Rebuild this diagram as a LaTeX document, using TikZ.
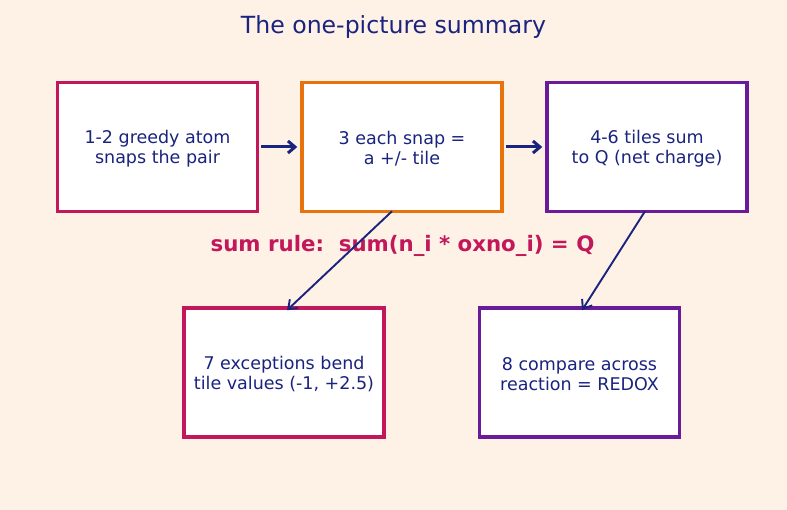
\documentclass[tikz,border=0pt]{standalone}
\usepackage{fontspec}
\setmainfont{DejaVu Sans}
\usetikzlibrary{arrows.meta}
\definecolor{bg}{HTML}{FEF1E6}
\definecolor{navy}{HTML}{1A237E}
\definecolor{crim}{HTML}{C2185B}
\definecolor{orng}{HTML}{E8730C}
\definecolor{purp}{HTML}{6A1B9A}
\tikzset{
  box/.style={draw, line width=3.5pt, fill=white, minimum width=200pt, minimum height=129pt, inner sep=0pt, align=center, text=navy, font=\fontsize{17.5}{20.5}\selectfont},
  boxtext/.style={inner sep=0pt, align=center, text=navy, font=\fontsize{17.5}{20.5}\selectfont},
  harrow/.style={draw=navy, line width=3pt, -{Straight Barb[length=7pt,width=12pt]}},
  darrow/.style={draw=navy, line width=1.9pt, -{Straight Barb[length=8pt,width=12pt]}}
}
\begin{document}
\begin{tikzpicture}[x=1pt,y=-1pt]
\fill[bg] (0,0) rectangle (787,510);
\useasboundingbox (0,0) rectangle (787,510);
\node[text=navy, font=\fontsize{23.6}{28}\selectfont] (title) at (393.5,26.5) {The one-picture summary};
\node[box, draw=crim] (b1) at (157.5,147) {};
\node[box, draw=orng] (b2) at (402,147) {};
\node[box, draw=purp] (b3) at (647,147) {};
\node[box, draw=crim] (b4) at (284,372.5) {};
\node[box, draw=purp] (b5) at (579.5,372.5) {};
\node[boxtext] (t1) at (157.5,148.5) {1-2 greedy atom\\snaps the pair};
\node[boxtext] (t2) at (402,148.5) {3 each snap =\\a +/- tile};
\node[boxtext] (t3) at (647,148.5) {4-6 tiles sum\\to Q (net charge)};
\node[boxtext] (t4) at (284,374) {7 exceptions bend\\tile values (-1, +2.5)};
\node[boxtext] (t5) at (579.5,374) {8 compare across\\reaction = REDOX};
\node[text=crim, font=\bfseries\fontsize{21.3}{25}\selectfont] (rule) at (402.5,246) {sum rule:\ \ sum(n\_i * oxno\_i) = Q};
\draw[harrow] ([xshift=2pt]b1.east) -- ([xshift=-3pt]b2.west);
\draw[harrow] ([xshift=2pt]b2.east) -- ([xshift=-3pt]b3.west);
\draw[darrow] ([xshift=-10pt,yshift=2pt]b2.south) -- ([xshift=3pt,yshift=-4pt]b4.north);
\draw[darrow] ([xshift=-2pt,yshift=2pt]b3.south) -- ([xshift=2.5pt,yshift=-4pt]b5.north);
\end{tikzpicture}
\end{document}
